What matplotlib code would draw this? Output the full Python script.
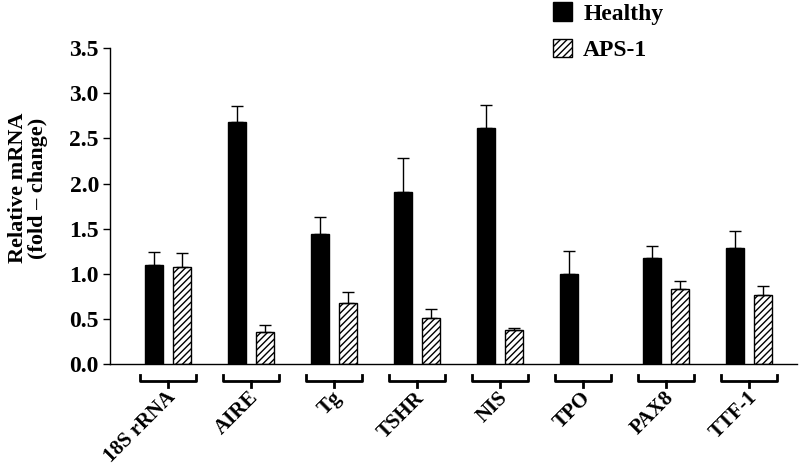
import numpy as np
import matplotlib.pyplot as plt
import matplotlib.transforms as mtransforms

genes = ["18S rRNA", "AIRE", "Tg", "TSHR", "NIS", "TPO", "PAX8", "TTF-1"]
healthy = [1.10, 2.68, 1.44, 1.91, 2.61, 1.00, 1.17, 1.29]
healthy_err = [0.14, 0.18, 0.19, 0.37, 0.26, 0.25, 0.14, 0.18]
aps1 = [1.07, 0.35, 0.68, 0.51, 0.38, 0.0, 0.83, 0.76]
aps1_err = [0.16, 0.08, 0.12, 0.10, 0.02, 0.0, 0.09, 0.10]

plt.rcParams["font.family"] = ["Liberation Serif", "DejaVu Serif"]
plt.rcParams["font.weight"] = "bold"
plt.rcParams["hatch.linewidth"] = 1.0

fig = plt.figure(figsize=(8, 4.7), dpi=100)
ax = fig.add_axes([0.1375, 0.2255, 0.859, 0.672])

x = np.arange(len(genes))
w = 0.22
off = 0.17

ax.bar(x - off, healthy, w, color="black", edgecolor="black", label="Healthy")
ax.errorbar(x - off, healthy, yerr=[np.zeros(len(x)), healthy_err], fmt="none",
            ecolor="black", elinewidth=1, capsize=4, capthick=1)

has_aps = np.array(aps1) > 0
ax.bar(x[has_aps] + off, np.array(aps1)[has_aps], w, color="white", edgecolor="black",
       hatch="/////", linewidth=1, label="APS-1")
ax.errorbar(x[has_aps] + off, np.array(aps1)[has_aps],
            yerr=[np.zeros(has_aps.sum()), np.array(aps1_err)[has_aps]], fmt="none",
            ecolor="black", elinewidth=1, capsize=4, capthick=1)

ax.set_xlim(-0.70, 7.58)
ax.set_ylim(0, 3.5)
ax.set_yticks(np.arange(0, 3.51, 0.5))
ax.set_yticklabels([f"{v:.1f}" for v in np.arange(0, 3.51, 0.5)], fontsize=17, fontweight="bold")
ax.set_xticks([])
ax.spines["top"].set_visible(False)
ax.spines["right"].set_visible(False)
ax.spines["left"].set_linewidth(1)
ax.spines["bottom"].set_linewidth(1)
ax.tick_params(axis="y", direction="out", length=5, width=1, pad=3)

ax.set_ylabel("Relative mRNA\n(fold – change)", fontsize=16, fontweight="bold", linespacing=1.0)
ax.yaxis.set_label_coords(-0.09, 0.557)

# brackets under each gene pair
trans = mtransforms.blended_transform_factory(ax.transData, ax.transAxes)
for xi, name in zip(x, genes):
    bx = [xi - 0.34, xi - 0.34, xi + 0.34, xi + 0.34]
    by = [-0.035, -0.053, -0.053, -0.035]
    ax.plot(bx, by, color="black", lw=2, transform=trans, clip_on=False)
    ax.plot([xi, xi], [-0.053, -0.072], color="black", lw=2, transform=trans, clip_on=False)
    ax.text(xi - 0.03, -0.075, name, transform=trans, rotation=45, rotation_mode="anchor",
            ha="right", va="top", fontsize=15, fontweight="bold")

ax.legend(loc="upper left", bbox_to_anchor=(0.614, 1.212), frameon=False,
          handlelength=0.8, handleheight=0.8, labelspacing=0.6, handletextpad=0.47,
          prop={"weight": "bold", "size": 17})

plt.savefig("out.png", dpi=100)
